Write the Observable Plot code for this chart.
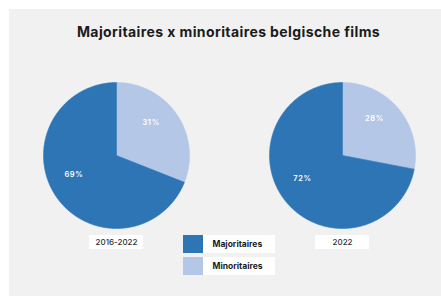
<!DOCTYPE html>
<html><head><meta charset="utf-8">
<script src="https://cdn.jsdelivr.net/npm/d3@7"></script>
<script src="https://cdn.jsdelivr.net/npm/@observablehq/plot@0.6"></script>
<style>
html,body{margin:0;padding:0;background:#fff;}
#panel{position:absolute;left:9px;top:9px;width:432px;height:287px;background:#f1f1f1;}
#title{position:absolute;left:0;top:23px;width:457px;text-align:center;font:700 14px Inter, sans-serif;color:#1b1b1b;letter-spacing:0.4px;}
#chart{position:absolute;left:0;top:0;}
.pct{letter-spacing:0.6px;}
</style></head><body>
<div id="panel"></div>
<div id="title">Majoritaires x minoritaires belgische films</div>
<div id="chart"></div>
<script>
// ---- data ----
const periods = ["2016-2022", "2022"];
const sliceOrder = ["Minoritaires", "Majoritaires"]; // clockwise from 12 o'clock
const minoritaires = [31, 28];
const majoritaires = [69, 72];
const legendLabels = ["Majoritaires", "Minoritaires"];
const colorRange = ["#2e75b6", "#b4c7e7"];

// ---- layout ----
const W = 441, H = 296;
const pieCx = [116, 342], pieCy = 155, R = 73;

const slicePts = [], labelRows = [], periodRows = [];
periods.forEach((p, i) => {
  const rows = [
    {category: "Minoritaires", value: minoritaires[i]},
    {category: "Majoritaires", value: majoritaires[i]}
  ];
  const arcs = d3.pie().sort(null).value(d => d.value)(rows);
  const cx = pieCx[i];
  arcs.forEach((a, j) => {
    const id = p + "-" + a.data.category;
    slicePts.push({id, category: a.data.category, x: cx, y: pieCy});
    const n = Math.max(8, Math.ceil((a.endAngle - a.startAngle) / 0.01));
    for (let k = 0; k <= n; k++) {
      const t = a.startAngle + (a.endAngle - a.startAngle) * k / n;
      slicePts.push({id, category: a.data.category, x: cx + R * Math.sin(t), y: pieCy - R * Math.cos(t)});
    }
    slicePts.push({id, category: a.data.category, x: cx, y: pieCy});
    const m = (a.startAngle + a.endAngle) / 2;
    const rl = R * 0.64;
    labelRows.push({x: cx + rl * Math.sin(m), y: pieCy - rl * Math.cos(m), text: a.data.value + "%"});
  });
  periodRows.push({period: p, x: cx, x1: cx - 27, x2: cx + 27, y1: 235, y2: 249, y: 242});
});

const legendRows = legendLabels.map((c, i) => ({category: c, y1: 235 + i * 22, y2: 253 + i * 22, y: 244 + i * 22}));

const chart = Plot.plot({
  width: W, height: H,
  marginTop: 0, marginRight: 0, marginBottom: 0, marginLeft: 0,
  x: {domain: [0, W], range: [0, W], axis: null},
  y: {domain: [0, H], range: [0, H], axis: null},
  color: {domain: legendLabels, range: colorRange},
  style: {background: "transparent", fontFamily: "Inter, sans-serif"},
  marks: [
    Plot.line(slicePts, {x: "x", y: "y", z: "id", fill: "category", stroke: "category", strokeWidth: 0.6}),
    Plot.text(labelRows, {x: "x", y: "y", text: "text", fill: "white", fontSize: 7.5, fontWeight: 600, dx: -4, dy: -7, className: "pct"}),
    Plot.rect(periodRows, {x1: "x1", x2: "x2", y1: "y1", y2: "y2", fill: "white"}),
    Plot.text(periodRows, {x: "x", y: "y", text: "period", fontSize: 8, fontWeight: 500, fill: "#333"}),
    Plot.rect(legendRows, {x1: 183, x2: 203, y1: "y1", y2: "y2", fill: "category"}),
    Plot.rect(legendRows, {x1: 203, x2: 275, y1: "y1", y2: "y2", fill: "white"}),
    Plot.text(legendRows, {x: 212, y: "y", text: "category", textAnchor: "start", fontSize: 8.5, fontWeight: 700, fill: "#1b1b1b"})
  ]
});
document.getElementById("chart").appendChild(chart);
</script>
</body></html>
